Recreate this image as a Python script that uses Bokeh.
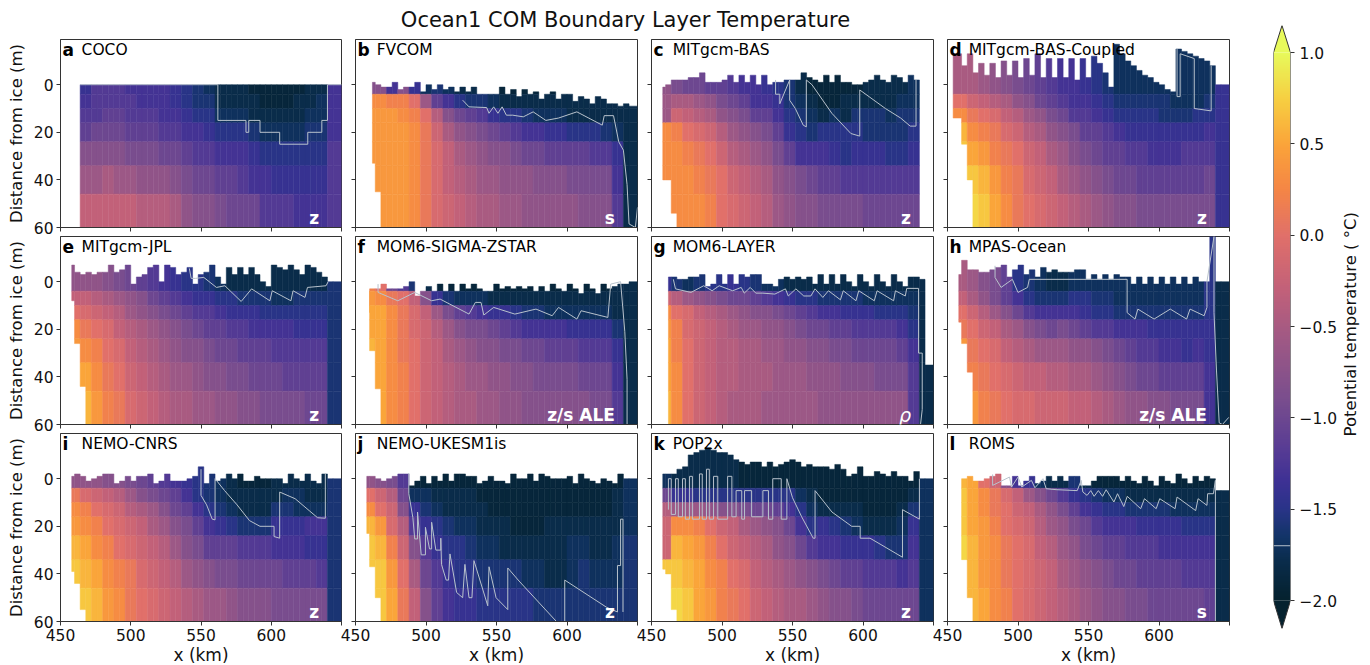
import numpy as np

from bokeh.core.properties import value
from bokeh.embed import file_html
from bokeh.layouts import column, row
from bokeh.models import (
    ColumnDataSource,
    CustomLabelingPolicy,
    FixedTicker,
    Label,
    LinearAxis,
    LinearColorMapper,
    Range1d,
)
from bokeh.plotting import figure
from bokeh.resources import INLINE
from bokeh.transform import transform

FONT = "DejaVu Sans"
TITLE = "Ocean1 COM Boundary Layer Temperature"
CBAR_LABEL = "Potential temperature ( °C)"

# Colour scale
STOP_T = [-2.0, -1.8, -1.65, -1.5, -1.35, -1.15, -0.9, -0.6, -0.3, 0.0, 0.25, 0.5, 0.75, 1.0]
STOP_C = ["#05222f", "#0a2c4a", "#133569", "#2a3489", "#3e3195", "#5b3e94", "#7a4e8e",
          "#9c5886", "#c2617a", "#e1706a", "#f58646", "#fba43a", "#f7cf42", "#e8fa5b"]

# Column grid: ice top every 4 km from 456, temperature every 8 km.
# Depth bands in m. Temperatures are in tenths of a degree.
COL0 = 456
COL_W = 4
X_END = 650
BANDS = [-20, 4, 10, 16, 24, 34, 46, 60]

top_a = [None, None] + [0] * 46
bot_a = [60]
t_a = [
    [-14, -14, -12, -12, -12, -13, -13, -13, -13, -14, -15, -16, -17, -18, -18, -18, -19, -19, -19, -19, -19, -18, -18, -13],
    [-14, -13, -12, -12, -12, -12, -13, -13, -13, -14, -15, -16, -16, -18, -18, -18, -18, -19, -19, -19, -18, -18, -17, -13],
    [-13, -12, -12, -11, -11, -12, -12, -12, -13, -13, -14, -15, -15, -17, -17, -17, -18, -18, -18, -18, -18, -17, -17, -13],
    [-11, -11, -10, -10, -10, -11, -11, -11, -12, -12, -13, -13, -14, -15, -15, -15, -16, -17, -17, -17, -17, -16, -16, -13],
    [-8, -8, -8, -8, -8, -9, -9, -9, -10, -10, -11, -12, -12, -13, -13, -13, -14, -15, -15, -15, -15, -15, -15, -12],
    [-5, -6, -6, -5, -6, -6, -7, -7, -7, -8, -9, -10, -10, -11, -11, -12, -13, -13, -14, -14, -14, -14, -14, -12],
    [-3, -3, -3, -3, -3, -3, -4, -4, -4, -5, -7, -8, -8, -9, -10, -10, -10, -12, -12, -12, -13, -13, -13, -12],
]
cx_a = [464, 562, 562, 582, 582, 584, 584, 592, 592, 606, 606, 626, 626, 636, 636, 640, 640, 650]
cy_a = [0, 0, 15, 15, 20, 20, 15, 15, 20, 20, 25, 25, 20, 20, 15, 15, 0, 0]

top_b = [None, -1, 0, 1, 1, -1, 2, 1, 1, -1, 3, 0, 2, 0, 2, 1, 3, 1, 3, 1, 4, 4, 4, 4, 1, 4, 2, 5, 2, 4, 3, 6, 4, 3, 6, 4, 4, 7, 5, 6, 8, 5, 6, 8, 8, 9, 8, 9]
bot_b = [33, 33, 45, 60]
t_b = [
    [-8, -8, -13, -8, -14, -17, -16, -17, -18, -18, -18, -18, -19, -19, -19, -19, -19, -19, -19, -19, -19, -19, -19, -18],
    [3, 3, 2, 2, 0, -6, -11, -13, -15, -16, -16, -17, -18, -18, -18, -18, -18, -18, -18, -18, -18, -18, -18, -18],
    [4, 4, 4, 3, 2, 0, -4, -8, -10, -11, -12, -14, -15, -15, -16, -17, -17, -17, -18, -18, -18, -18, -18, -18],
    [4, 4, 4, 4, 3, 1, -2, -5, -7, -8, -9, -10, -11, -12, -13, -13, -14, -14, -15, -15, -15, -16, -17, -18],
    [4, 4, 4, 4, 3, 1, -1, -3, -5, -6, -7, -8, -8, -9, -10, -10, -11, -11, -11, -11, -12, -12, -14, -18],
    [4, 4, 4, 4, 3, 1, -1, -3, -4, -5, -6, -6, -7, -7, -7, -8, -8, -8, -9, -9, -9, -9, -13, -18],
    [4, 4, 4, 4, 3, 1, -1, -2, -3, -4, -5, -5, -6, -6, -7, -7, -7, -7, -7, -8, -8, -8, -12, -18],
]
cx_b = [526, 530.5, 543, 544.7, 548, 551, 554, 557, 561.5, 569, 576, 585, 594, 607, 625, 626.4, 633, 636.7, 640, 642.6, 644, 648.5, 650]
cy_b = [6.5, 9.3, 9.6, 12, 9.3, 12, 9.3, 12.8, 12.8, 13.5, 11.4, 15, 14, 11.4, 17, 13, 13, 24, 27.5, 42, 58.5, 60, 51.5]

top_c = [1, 0, -2, -2, -2, -3, -3, -5, -1, -1, -1, -2, -4, -1, -4, -1, -4, 0, -4, 0, -1, -1, -2, -2, -2, -5, -3, -2, -1, -4, -1, -4, -1, -1, 0, 0, -1, -2, -4, -2, -1, -4, -3, -1, -4, -2, None, None]
bot_c = [40, 40, 54, 60]
t_c = [
    [-7, -9, -10, -10, -11, -11, -12, -13, -13, -14, -15, -16, -18, -19, -19, -19, -19, -19, -18, -18, -18, -18, -17, -17],
    [-6, -5, -5, -6, -7, -9, -10, -11, -13, -13, -14, -16, -17, -18, -19, -19, -18, -18, -18, -18, -18, -17, -17, -17],
    [-6, -2, -3, -4, -5, -7, -8, -9, -11, -11, -13, -15, -16, -17, -18, -17, -18, -16, -16, -16, -17, -16, -16, -16],
    [3, 2, 0, -1, -2, -4, -6, -7, -8, -9, -11, -14, -15, -16, -15, -15, -15, -15, -16, -16, -16, -16, -15, -15],
    [3, 3, 2, 1, 0, -2, -4, -5, -6, -7, -9, -11, -13, -13, -13, -14, -15, -14, -14, -14, -15, -15, -14, -14],
    [3, 3, 3, 2, 1, 0, -2, -3, -4, -5, -7, -8, -9, -10, -11, -11, -12, -12, -12, -12, -12, -12, -12, -12],
    [3, 3, 3, 3, 2, 0, -1, -2, -3, -4, -6, -7, -8, -8, -9, -9, -9, -9, -10, -10, -10, -10, -10, -10],
]
cx_c = [538, 538, 541, 541, 548, 548, 552, 557.6, 559.8, 559.8, 563.8, 577.9, 591.4, 597.7, 597.7, 615.9, 626.7, 633.5, 637.6, 637.6]
cy_c = [-2, 4, 4, 8, -2, 6.5, 10, 17, 17.7, -2, 0, 12, 20.5, 21.6, 2.2, 10, 14, 17.4, 17.4, -2]

top_d = [-13, -8, -13, -5, -9, -4, -9, -3, -10, -4, -10, -3, -11, -4, -13, -3, -11, -3, -11, -3, -11, -2, -11, -3, -12, -9, -5, 1, -17, -13, -10, -8, -6, -4, -3, -1, 0, 2, 3, -15, -14, -13, -12, -11, -10, -8, 0, 0]
bot_d = [14, 25, 40, 60]
t_d = [
    [-5, -5, -6, -7, -8, -9, -10, -11, -12, -13, -13, -14, -15, -16, -17, -17, -17, -17, -17, -17, -17, -17, -17, -14],
    [0, -2, -3, -4, -5, -7, -8, -10, -11, -12, -13, -13, -14, -15, -16, -16, -16, -16, -16, -17, -17, -17, -16, -14],
    [3, 1, 0, -1, -3, -4, -6, -7, -9, -10, -12, -12, -13, -14, -15, -15, -15, -15, -16, -16, -16, -15, -15, -14],
    [6, 3, 2, 1, -1, -2, -4, -5, -7, -8, -9, -11, -11, -12, -13, -14, -14, -14, -14, -14, -14, -14, -13, -14],
    [7, 5, 4, 2, 1, 0, -2, -3, -5, -6, -8, -9, -10, -11, -11, -12, -12, -13, -13, -13, -12, -12, -12, -14],
    [8, 7, 6, 4, 2, 1, -1, -2, -3, -5, -6, -7, -8, -9, -10, -10, -11, -11, -11, -11, -11, -11, -10, -14],
    [8, 8, 7, 5, 3, 1, 0, -1, -2, -3, -4, -5, -6, -7, -8, -8, -9, -9, -9, -9, -9, -9, -9, -14],
]
cx_d = [612.8, 612.8, 615, 615, 625, 625, 637, 637]
cy_d = [-15, 5, 5, -13, -11, 10, 11, -8]

top_e = [-7, -4, -3, -4, -3, -4, -4, -7, -4, -5, -7, 1, -2, -3, -6, -7, 0, -7, -6, -3, -4, -6, 1, -3, -4, -7, -2, 1, -6, -3, -6, -3, -6, -3, 0, 2, -7, -6, -5, -7, -5, -3, -7, -6, -4, -2, 0, 0]
bot_e = [8, 26, 44, 60]
t_e = [
    [-7, -7, -7, -8, -9, -10, -11, -12, -13, -14, -15, -15, -16, -17, -18, -18, -18, -18, -18, -18, -18, -18, -18, -16],
    [-3, -3, -4, -5, -6, -7, -8, -10, -11, -12, -13, -14, -14, -15, -15, -16, -16, -16, -17, -17, -16, -16, -16, -16],
    [0, -1, -2, -3, -4, -6, -7, -8, -9, -10, -11, -12, -12, -13, -14, -14, -14, -15, -15, -15, -15, -15, -15, -16],
    [3, 1, 0, -1, -3, -4, -5, -6, -7, -8, -9, -10, -11, -11, -12, -12, -13, -13, -13, -13, -14, -14, -14, -16],
    [4, 3, 2, 0, -1, -3, -4, -5, -6, -7, -8, -8, -9, -10, -10, -11, -11, -11, -12, -12, -12, -12, -12, -16],
    [5, 5, 3, 1, 0, -2, -3, -4, -5, -6, -6, -7, -8, -8, -9, -9, -10, -10, -10, -11, -11, -11, -11, -16],
    [5, 6, 4, 2, 1, -1, -2, -3, -4, -5, -5, -6, -6, -7, -7, -8, -8, -9, -9, -9, -9, -10, -10, -16],
]
cx_e = [541.7, 543, 546, 552, 561, 567, 578.6, 586, 599, 600.7, 614, 615.5, 624, 625.8, 639, 640.5]
cy_e = [-5.6, -1.4, -1.4, -1.8, 2.4, 1.7, 8.3, 3, 8, 3.8, 8, 3.8, 6.6, 2.4, 1.7, 0]

top_f = [4, 3, 3, 1, 3, 3, 3, 2, 0, 6, 4, 2, 4, 1, 4, 1, 4, 1, 3, 1, 3, 4, 4, 1, 3, 2, 3, 2, 3, 2, 4, 2, 4, 1, 3, 4, 1, 3, 5, 1, 3, 5, 1, 3, 2, 1, 1, 0]
bot_f = [13, 29, 45, 60]
t_f = [
    [2, 0, -10, -12, -16, -18, -19, -19, -19, -19, -19, -19, -19, -19, -19, -19, -19, -19, -19, -19, -19, -19, -18, -18],
    [4, 3, 1, 0, -3, -8, -14, -16, -17, -17, -17, -18, -18, -18, -18, -18, -18, -18, -18, -18, -18, -18, -18, -18],
    [5, 5, 3, 1, -1, -3, -6, -9, -11, -12, -13, -14, -14, -15, -16, -16, -17, -17, -17, -17, -17, -17, -18, -18],
    [5, 5, 3, 1, -1, -2, -4, -6, -8, -9, -9, -10, -11, -12, -13, -13, -13, -13, -14, -14, -14, -14, -16, -18],
    [6, 5, 3, 1, 0, -2, -3, -5, -6, -7, -8, -8, -9, -9, -10, -10, -11, -11, -11, -12, -12, -12, -14, -18],
    [6, 5, 3, 2, 0, -2, -3, -4, -5, -6, -6, -7, -7, -8, -8, -9, -9, -9, -9, -10, -10, -10, -13, -18],
    [6, 5, 3, 2, 0, -2, -3, -4, -5, -5, -6, -6, -7, -7, -8, -8, -8, -8, -8, -8, -9, -9, -12, -18],
]
cx_f = [466, 466, 480, 492, 504, 510, 530.5, 535, 539, 541, 548, 563, 578, 589.5, 594, 607, 610, 629, 631, 638, 641, 642.6, 642.6]
cy_f = [1, 4.5, 8, 4.5, 8, 7.3, 13.6, 8.7, 8.7, 14, 10.8, 13.6, 11.5, 14.3, 10.8, 15.7, 12.2, 15, 1, 0, 21, 41, 60]

top_g = [None, -2, -2, -1, -1, -2, -2, -3, 2, 1, -3, 1, -3, 1, -3, -2, -3, -3, 1, 1, 2, -1, -2, -1, -2, -1, -2, 1, -3, 1, -3, 1, -3, 0, 2, -3, 0, 2, -3, 0, 2, -3, 0, 2, -2, -2, -1, 35]
bot_g = [60]
t_g = [
    [-14, -16, -17, -16, -15, -15, -14, -15, -16, -17, -17, -18, -18, -18, -18, -18, -18, -18, -18, -18, -18, -18, -18, -18],
    [-2, -4, -6, -7, -8, -9, -10, -10, -11, -12, -13, -14, -15, -15, -16, -16, -16, -16, -17, -17, -17, -17, -17, -18],
    [3, 0, -1, -3, -4, -5, -6, -7, -8, -8, -9, -10, -11, -12, -13, -13, -14, -14, -14, -15, -15, -15, -16, -18],
    [4, 2, -1, -2, -3, -4, -5, -6, -6, -7, -7, -8, -9, -10, -10, -11, -11, -12, -12, -12, -12, -13, -15, -18],
    [5, 2, 0, -2, -3, -4, -4, -5, -5, -6, -6, -7, -7, -8, -8, -9, -9, -10, -10, -10, -10, -11, -13, -18],
    [5, 3, 0, -2, -3, -4, -4, -5, -5, -5, -6, -6, -6, -7, -7, -7, -8, -8, -8, -9, -9, -9, -12, -18],
    [6, 3, 0, -2, -3, -4, -5, -5, -5, -6, -6, -6, -6, -6, -7, -7, -7, -7, -7, -7, -7, -7, -12, -18],
]
cx_g = [465.5, 467, 478, 487, 493, 498, 507.6, 513.6, 515.8, 520, 524, 529, 537.5, 545, 547, 552.4, 558, 563, 566, 571.5, 575.5, 584, 586, 595, 597, 608, 610, 621.7, 623, 630, 631, 639.4, 639.4, 642, 642, 640.8]
cy_g = [-1, 3, 4.5, 1.7, 3.8, 1.7, 3.8, 2.4, 4.8, 2.4, 4.8, 4.8, 5.2, 3, 6, 3, 6, 6, 3, 6.6, 3.8, 7.6, 3.8, 8, 3.8, 8, 3.8, 8, 3.8, 6, 2.8, 2.8, 30, 30, 53.7, 60]

top_h = [-3, -9, -5, -5, -4, -4, -5, -6, -7, -2, -5, -7, -3, -5, -2, -6, -4, -5, -4, -4, -4, -5, -5, -1, -3, -1, -3, -1, -3, -2, -2, 1, -2, 1, -2, 1, -2, 1, -2, 1, -2, 1, -2, 0, 0, -19, 0, 0]
bot_h = [17, 26, 38, 60]
t_h = [
    [-5, -6, -8, -9, -11, -15, -16, -17, -18, -18, -17, -17, -17, -17, -17, -17, -17, -17, -17, -17, -17, -17, -15, -18],
    [-3, -5, -7, -9, -11, -13, -15, -16, -16, -16, -15, -15, -16, -16, -17, -17, -17, -17, -17, -17, -17, -17, -15, -18],
    [0, -2, -4, -6, -8, -10, -12, -13, -13, -13, -13, -14, -15, -15, -16, -16, -16, -16, -16, -16, -16, -16, -15, -18],
    [1, 0, -2, -3, -5, -6, -8, -9, -10, -9, -10, -11, -12, -12, -13, -13, -13, -14, -14, -14, -14, -14, -14, -18],
    [4, 1, 0, -1, -3, -4, -5, -6, -6, -6, -7, -7, -8, -9, -10, -11, -12, -12, -13, -13, -14, -13, -14, -18],
    [5, 2, 1, 0, -1, -2, -3, -3, -4, -4, -5, -5, -6, -7, -8, -9, -10, -10, -11, -11, -11, -11, -13, -18],
    [7, 4, 2, 1, 0, -1, -1, -2, -2, -2, -3, -3, -4, -5, -6, -7, -7, -8, -8, -9, -9, -9, -13, -18],
]
cx_h = [483.7, 483.7, 488, 496, 500, 506.8, 508, 577.4, 577.4, 583, 585, 596.5, 608, 619.6, 622, 632, 634, 634, 639, 639, 640.8, 642.7, 645, 649.5]
cy_h = [-6.7, -1.8, 2.4, -1, 4.5, 2.4, -1, -1, 13, 15.7, 11.5, 15.7, 11.5, 15.7, 11.5, 14.3, 10.8, 0, -19, 13, 37.5, 59.3, 60, 57]

top_i = [-1, -2, -1, 1, 0, -1, -2, -2, 2, 1, -1, 1, -1, -1, -2, 2, 1, -2, 1, 1, 1, 0, -1, -5, 2, -2, 1, 0, -2, 0, -2, 1, 1, -1, 0, 0, 0, 0, 2, -2, 0, 1, -2, 1, 2, -2, 0, 0]
bot_i = [39, 44, 55, 60]
t_i = [
    [-7, -7, -7, -8, -8, -9, -10, -11, -12, -13, -14, -15, -16, -17, -18, -19, -19, -19, -18, -18, -18, -18, -18, -16],
    [1, -1, -2, -3, -4, -6, -8, -9, -10, -11, -13, -15, -16, -17, -18, -18, -18, -18, -18, -17, -17, -18, -18, -16],
    [3, 2, 0, -1, -2, -4, -5, -6, -8, -10, -11, -13, -15, -16, -17, -18, -18, -18, -16, -16, -17, -17, -17, -16],
    [4, 3, 2, 0, -1, -2, -3, -5, -6, -8, -9, -11, -13, -14, -15, -16, -16, -16, -14, -14, -14, -13, -13, -16],
    [6, 5, 3, 2, 0, -1, -2, -3, -4, -6, -8, -9, -11, -11, -11, -12, -12, -12, -13, -13, -13, -14, -14, -16],
    [7, 6, 5, 3, 2, 1, -1, -2, -3, -4, -6, -7, -8, -9, -9, -10, -10, -10, -10, -11, -11, -11, -12, -16],
    [7, 7, 6, 4, 3, 1, 0, -1, -2, -3, -4, -5, -6, -6, -7, -8, -8, -8, -9, -9, -9, -9, -9, -16],
]
cx_i = [550, 550, 554, 558, 560, 560, 566.8, 575.7, 584.5, 592, 602, 602, 606, 606, 617, 627, 633, 638.5, 638.5]
cy_i = [-4, 7, 11, 17, 17.3, 0, 5, 11, 17.6, 20, 20, 24.3, 25, 5.6, 8.4, 13.4, 16.4, 16.6, -2]

top_j = [-1, -1, 0, 1, 0, -1, -2, -2, 3, 1, -1, 2, -1, 1, -2, 1, -2, -2, -1, -1, 2, 1, -1, 1, 1, 2, -2, 0, 0, -2, 1, -2, -1, 0, 0, 0, -1, 2, -2, 0, 1, 2, 0, 1, 2, -2, 0, 0]
bot_j = [23, 37, 50, 60]
t_j = [
    [-7, -8, -9, -12, -19, -19, -19, -19, -19, -19, -19, -19, -19, -19, -19, -19, -19, -19, -19, -19, -19, -19, -19, -17],
    [0, -2, -4, -10, -17, -17, -18, -18, -18, -18, -19, -19, -19, -19, -19, -19, -19, -19, -19, -19, -19, -19, -18, -17],
    [3, 0, -2, -8, -14, -16, -17, -18, -18, -18, -18, -19, -19, -19, -19, -19, -19, -19, -19, -19, -19, -19, -18, -17],
    [6, 4, -1, -4, -12, -14, -15, -16, -17, -17, -18, -18, -18, -19, -19, -19, -18, -18, -18, -18, -18, -18, -18, -17],
    [7, 6, 2, -2, -8, -12, -14, -15, -15, -16, -17, -17, -18, -18, -18, -18, -18, -18, -17, -17, -18, -18, -17, -16],
    [7, 7, 4, 0, -5, -10, -12, -14, -15, -15, -16, -16, -16, -16, -17, -17, -18, -18, -17, -16, -17, -17, -17, -16],
    [7, 7, 5, 1, -3, -8, -11, -13, -14, -14, -15, -15, -15, -15, -15, -16, -16, -16, -16, -16, -16, -16, -16, -16],
]
cx_j = [487.8, 487.8, 490.7, 492, 494, 494, 496.6, 499.6, 499.6, 502.5, 504, 504, 507, 510.5, 510.5, 511, 514.3, 516, 517, 521.7, 526, 527.6, 530.5, 532.6, 534, 543.8, 544.7, 549.7, 558, 558, 566, 592.5, 598.4, 598.4, 628, 635.8, 635.8, 638, 638, 639.7, 639.7]
cy_j = [-2.4, 6.3, 16.4, 25.3, 25.3, 14, 32, 32, 20.4, 29.5, 29.5, 18.3, 30, 30, 25, 36, 42.6, 42.6, 31.6, 47.8, 50, 36, 50, 50, 34.4, 53.4, 37, 50, 55, 37.5, 43, 60, 60, 42.6, 54, 56, 36.5, 36.5, 17, 17, 56]

top_k = [-2, -2, -2, -4, -5, -10, -11, -12, -13, -12, -11, -11, -10, -8, -7, -6, -7, -7, -5, -7, -5, -6, -7, -8, -7, -5, -6, -5, -5, -5, -4, -6, -4, -1, -2, -5, -1, -1, -3, -2, -1, -3, -1, -1, 1, -3, 0, 0]
bot_k = [38, 40, 55, 60]
t_k = [
    [-17, -18, -18, -18, -18, -18, -18, -19, -19, -19, -19, -19, -19, -19, -19, -19, -19, -19, -19, -19, -19, -19, -19, -17],
    [-10, -14, -14, -15, -15, -15, -15, -15, -15, -15, -15, -15, -17, -18, -19, -19, -19, -19, -19, -19, -19, -19, -18, -17],
    [-4, -6, -6, -6, -7, -8, -8, -9, -10, -10, -11, -13, -15, -17, -18, -18, -18, -18, -19, -19, -19, -18, -16, -17],
    [-2, 3, 3, 2, 0, -2, -3, -5, -6, -7, -8, -10, -13, -15, -14, -15, -16, -17, -18, -18, -18, -17, -14, -17],
    [-2, 6, 5, 4, 2, 0, -2, -3, -4, -5, -7, -8, -10, -12, -13, -13, -14, -14, -14, -15, -16, -16, -13, -17],
    [7, 7, 6, 5, 3, 2, 0, -1, -3, -4, -5, -6, -7, -8, -9, -10, -11, -11, -12, -12, -12, -13, -12, -17],
    [8, 8, 7, 5, 4, 2, 1, 0, -2, -3, -4, -5, -5, -6, -7, -8, -8, -9, -10, -10, -10, -10, -10, -17],
]
cx_k = [462, 462, 464, 464, 467, 467, 469, 469, 472, 472, 474, 474, 477, 477, 479, 479, 484, 484, 486, 486, 489, 489, 491, 491, 494, 494, 497, 497, 504, 504, 507, 507, 510, 510, 514, 514, 516, 516, 521, 521, 529, 529, 533, 533, 536, 536, 542, 542, 546, 546, 550, 556.5, 564.7, 566, 566, 578, 592, 598, 598, 605, 628, 628, 640, 640]
cy_k = [13, 0, 0, 15, 15, 0, 0, 16, 16, 0, 0, 17, 17, -1, -1, 17, 17, -2, -2, 17, 17, -4, -4, 17, 17, -1, -1, 17, 17, -1, -1, 16, 16, 5, 5, 17, 17, 5, 5, 16, 16, 5, 5, 17, 17, 0, 0, 17, 17, 0, 8, 16, 25, 25, 5, 14, 20, 20, 25, 25, 33, 13, 17, 0]

top_l = [None, 0, -1, 1, 1, 0, -1, -2, 3, 3, -1, 3, 1, -1, 2, 1, -1, 1, -1, 1, -1, -1, 3, 3, 1, -1, -1, -1, -1, 1, -1, 1, 2, -1, 1, 3, -1, 1, 2, -2, 0, 2, -1, 1, -1, 0, 5, 5]
bot_l = [30, 34, 50, 60]
t_l = [
    [6, 5, 0, -2, -8, -13, -14, -17, -18, -18, -16, -18, -19, -19, -19, -19, -19, -19, -19, -19, -19, -19, -19, -18],
    [7, 5, 3, 1, -1, -3, -6, -8, -10, -12, -14, -15, -16, -17, -17, -18, -18, -18, -18, -18, -18, -18, -18, -18],
    [7, 5, 3, 1, 0, -2, -3, -5, -7, -9, -11, -13, -14, -15, -15, -16, -16, -16, -16, -17, -17, -17, -17, -18],
    [7, 5, 4, 2, 0, -1, -2, -4, -6, -7, -9, -10, -12, -13, -13, -13, -14, -14, -14, -14, -15, -15, -15, -18],
    [8, 6, 4, 3, 1, 0, -1, -3, -4, -6, -7, -9, -10, -11, -11, -12, -12, -12, -13, -13, -13, -13, -13, -18],
    [8, 6, 4, 3, 1, 0, -1, -2, -3, -5, -6, -7, -8, -9, -10, -10, -11, -11, -11, -11, -12, -12, -12, -18],
    [8, 6, 5, 3, 2, 0, -1, -2, -3, -4, -5, -6, -7, -8, -8, -9, -9, -10, -10, -10, -10, -10, -11, -18],
]
cx_l = [482, 482, 494, 495.4, 500, 502.7, 509.5, 512, 517.7, 520, 527, 542, 544.8, 546, 549, 551.6, 554, 557, 560, 562.5, 568, 570.6, 575, 577.5, 587, 589.7, 598, 600.5, 611.4, 612.8, 626, 627.7, 634, 634.5, 638.6, 640, 640]
cy_l = [-1.8, 2.8, -0.7, 3.5, -0.7, 3.5, 0.7, 3.8, 0, 4.2, 4.6, 5, 0.7, 5.6, 7, 5, 7.4, 5, 7.4, 4.6, 9.8, 6.3, 11.7, 7.4, 12.6, 8.4, 12.6, 8.4, 12.6, 7.7, 13.4, 8.4, 11.2, 6.3, 6.3, 0.7, 60]

# letter, name, scheme tag, left edge of the water column (km), ice top, bottom, temperatures, contour
PANELS = [
    ("a", "COCO", "z", 464, top_a, bot_a, t_a, cx_a, cy_a),
    ("b", "FVCOM", "s", 462, top_b, bot_b, t_b, cx_b, cy_b),
    ("c", "MITgcm-BAS", "z", 458, top_c, bot_c, t_c, cx_c, cy_c),
    ("d", "MITgcm-BAS-Coupled", "z", 454, top_d, bot_d, t_d, cx_d, cy_d),
    ("e", "MITgcm-JPL", "z", 458, top_e, bot_e, t_e, cx_e, cy_e),
    ("f", "MOM6-SIGMA-ZSTAR", "z/s ALE", 460, top_f, bot_f, t_f, cx_f, cy_f),
    ("g", "MOM6-LAYER", "ρ", 462, top_g, bot_g, t_g, cx_g, cy_g),
    ("h", "MPAS-Ocean", "z/s ALE", 458, top_h, bot_h, t_h, cx_h, cy_h),
    ("i", "NEMO-CNRS", "z", 458, top_i, bot_i, t_i, cx_i, cy_i),
    ("j", "NEMO-UKESM1is", "z", 458, top_j, bot_j, t_j, cx_j, cy_j),
    ("k", "POP2x", "z", 458, top_k, bot_k, t_k, cx_k, cy_k),
    ("l", "ROMS", "s", 460, top_l, bot_l, t_l, cx_l, cy_l),
]


def make_palette(n=256):
    rgb = np.array([[int(c[i : i + 2], 16) for i in (1, 3, 5)] for c in STOP_C], dtype=float)
    levels = np.linspace(STOP_T[0], STOP_T[-1], n)
    chans = [np.interp(levels, STOP_T, rgb[:, k]) for k in range(3)]
    return ["#%02x%02x%02x" % (int(r), int(g), int(b)) for r, g, b in zip(*chans)]


PALETTE = make_palette()
MAPPER = LinearColorMapper(palette=PALETTE, low=-2, high=1)

# Inner panels keep their ticks but draw no labels; 650 gets no label either
HIDE_ALL = "for (const i of [...indices]) indices.unset(i); return indices"
HIDE_LAST = "const all = [...indices]; indices.unset(all[all.length - 1]); return indices"


def style_axes(p, show_x, show_y):
    p.xaxis.ticker = FixedTicker(ticks=[450, 500, 550, 600, 650])
    p.yaxis.ticker = FixedTicker(ticks=[0, 20, 40, 60])
    for ax in [p.xaxis[0], p.yaxis[0]]:
        ax.major_tick_out = 4
        ax.major_tick_in = 0
        ax.minor_tick_out = 0
        ax.minor_tick_in = 0
        ax.axis_line_color = "#333333"
        ax.major_tick_line_color = "#333333"
        ax.major_label_text_font = FONT
        ax.major_label_text_font_size = "15.5px"
        ax.major_label_text_color = "#111111"
        ax.axis_label_text_font = FONT
        ax.axis_label_text_font_size = "16.5px"
        ax.axis_label_text_font_style = "normal"
        ax.axis_label_text_color = "#111111"
    p.xaxis.major_label_standoff = 3
    p.yaxis.major_label_standoff = 3
    if show_x:
        p.xaxis.axis_label = "x (km)"
        p.xaxis.axis_label_text_font_size = "17px"
        p.xaxis.axis_label_standoff = 1
        p.xaxis.major_label_policy = CustomLabelingPolicy(code=HIDE_LAST)
    else:
        p.xaxis.major_label_text_font_size = "1px"
        p.xaxis.major_label_standoff = 0
        p.xaxis.major_label_policy = CustomLabelingPolicy(code=HIDE_ALL)
    if show_y:
        p.yaxis.axis_label = "Distance from ice (m)"
        p.yaxis.axis_label_standoff = 5
    else:
        p.yaxis.major_label_text_font_size = "1px"
        p.yaxis.major_label_standoff = 0
        p.yaxis.major_label_policy = CustomLabelingPolicy(code=HIDE_ALL)


def draw_panel(index, panel):
    letter, name, tag, x_start, top, bottom, temps, cont_x, cont_y = panel
    first_col = index % 4 == 0
    last_row = index >= 8
    p = figure(
        frame_width=281 if first_col else 282,
        frame_height=188,
        x_range=Range1d(450, X_END),
        y_range=Range1d(60, -19),
        output_backend="svg",
        toolbar_location=None,
        min_border_left=60 if first_col else 20,
        min_border_right=7,
        min_border_top=0,
        min_border_bottom=36 if last_row else 9,
        margin=(0, 0, 0, 0) if first_col else (0, 0, 0, -13),
        border_fill_color=None,
        outline_line_color="#333333",
    )
    p.grid.visible = False
    style_axes(p, last_row, first_col)

    cells = dict(left=[], right=[], top=[], bottom=[], t=[])
    seen = False
    for i, ice in enumerate(top):
        if ice is None:
            continue
        left = x_start if not seen else COL0 + i * COL_W
        seen = True
        right = COL0 + (i + 1) * COL_W if i < len(top) - 1 else X_END
        deep = bottom[i] if i < len(bottom) else 60
        for j in range(len(BANDS) - 1):
            upper = max(BANDS[j], ice)
            lower = min(BANDS[j + 1], deep)
            if lower > upper:
                cells["left"].append(left)
                cells["right"].append(right)
                cells["top"].append(upper)
                cells["bottom"].append(lower)
                cells["t"].append(temps[j][i // 2] / 10)

    p.quad(
        left="left", right="right", top="top", bottom="bottom",
        source=ColumnDataSource(cells),
        fill_color=transform("t", MAPPER),
        line_color=transform("t", MAPPER),
        line_width=0.5,
    )
    p.line(cont_x, cont_y, line_color="#b8c2cc", line_width=1)

    p.add_layout(Label(x=451.5, y=-14.6, text=letter, text_font=FONT, text_font_style="bold",
                       text_font_size="17px", text_color="#000000", text_baseline="middle"))
    p.add_layout(Label(x=465, y=-14.6, text=name, text_font=FONT, text_font_size="15.5px",
                       text_color="#000000", text_baseline="middle"))
    italic = tag == "ρ"
    p.add_layout(Label(x=634, y=56, text=tag, text_font=FONT,
                       text_font_style="italic" if italic else "bold",
                       text_font_size="19px" if italic else "17px", text_color="#ffffff",
                       text_align="right", text_baseline="middle"))
    return p


def draw_title():
    p = figure(width=1236, height=39, x_range=Range1d(0, 1236), y_range=Range1d(0, 39),
               output_backend="svg", toolbar_location=None, min_border=0,
               outline_line_color=None, x_axis_location=None, y_axis_location=None)
    p.grid.visible = False
    p.text(x=[625], y=[20], text=[TITLE], text_font=value(FONT), text_font_size="21px",
           text_align="center", text_baseline="middle", text_color="#111111")
    return p


def draw_colorbar():
    p = figure(
        frame_width=17, frame_height=603,
        x_range=Range1d(0, 1), y_range=Range1d(-2.153, 1.148),
        output_backend="svg", toolbar_location=None,
        min_border_left=37, min_border_right=46, min_border_top=25, min_border_bottom=30,
        outline_line_color=None, x_axis_location=None, y_axis_location=None,
    )
    p.grid.visible = False
    levels = np.linspace(-2, 1, 256)[:, None]
    p.image(image=[levels], x=0, y=-2, dw=1, dh=3, color_mapper=MAPPER)
    p.patch([0, 0.5, 1], [1, 1.148, 1], fill_color=PALETTE[-1], line_color=None)
    p.patch([0, 0.5, 1], [-2, -2.153, -2], fill_color=PALETTE[0], line_color=None)
    p.line([0, 0, 0.5, 1, 1, 0.5, 0], [-2, 1, 1.148, 1, -2, -2.153, -2], line_color="#333333", line_width=1)
    p.line([0, 1], [-1.7, -1.7], line_color="#b8c2cc", line_width=1)

    ticks = [-2.0, -1.5, -1.0, -0.5, 0.0, 0.5, 1.0]
    axis = LinearAxis(
        ticker=FixedTicker(ticks=ticks),
        major_label_overrides={t: f"{t:.1f}".replace("-", "−") for t in ticks},
        major_label_text_font=FONT,
        major_label_text_font_size="15.5px",
        major_label_text_color="#111111",
        major_label_standoff=5,
        major_tick_out=4,
        major_tick_in=0,
        minor_tick_out=0,
        minor_tick_in=0,
        axis_line_color=None,
        major_tick_line_color="#333333",
    )
    p.add_layout(axis, "right")
    return p


def draw_colorbar_label():
    # An axis label on the right reads downwards, the reference reads upwards
    p = figure(width=24, height=658, x_range=Range1d(0, 24), y_range=Range1d(0, 658),
               output_backend="svg", toolbar_location=None, min_border=0,
               outline_line_color=None, x_axis_location=None, y_axis_location=None)
    p.grid.visible = False
    p.text(x=[10], y=[332], text=[CBAR_LABEL], angle=[90], angle_units="deg",
           text_font=value(FONT), text_font_size="16.5px", text_color="#111111",
           text_align="center", text_baseline="middle")
    return p


figs = [draw_panel(i, panel) for i, panel in enumerate(PANELS)]
rows = [row(*figs[k : k + 4]) for k in (0, 4, 8)]
left_part = column(draw_title(), *rows)
page = row(left_part, draw_colorbar(), draw_colorbar_label())

open("out.html", "w").write(file_html(page, INLINE))
